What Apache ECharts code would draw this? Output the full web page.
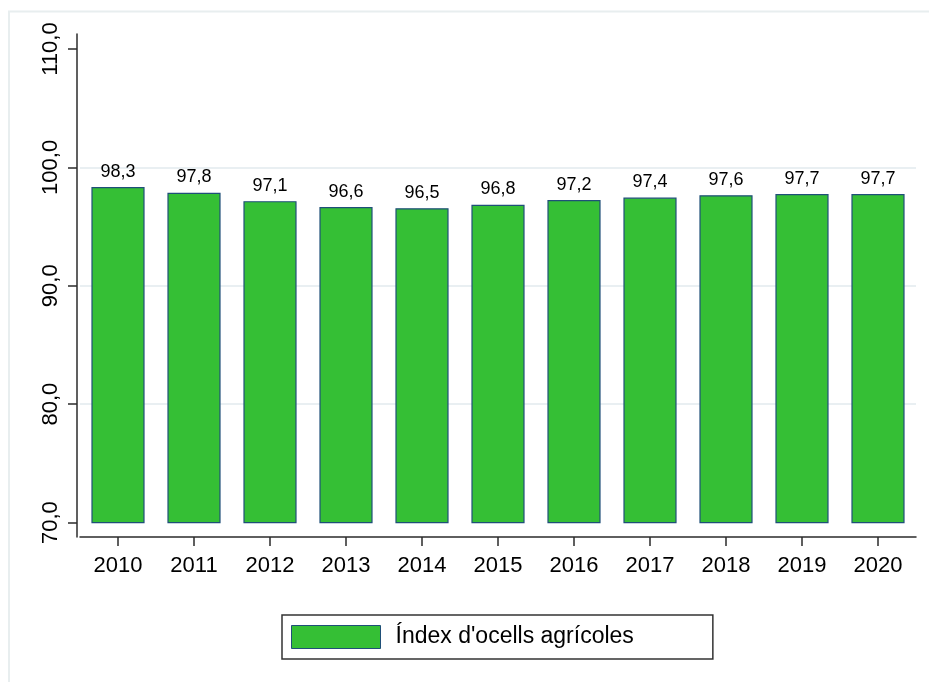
<!DOCTYPE html>
<html>
<head>
<meta charset="utf-8">
<script src="https://cdn.jsdelivr.net/npm/echarts@6/dist/echarts.min.js"></script>
<style>
  html, body { margin: 0; padding: 0; background: #fff; }
  #chart { width: 929px; height: 682px; }
</style>
</head>
<body>
<div id="chart"></div>
<script>
// Farmland bird index, 2010-2020
const years = ['2010', '2011', '2012', '2013', '2014', '2015', '2016', '2017', '2018', '2019', '2020'];
const indexValues = [98.3, 97.8, 97.1, 96.6, 96.5, 96.8, 97.2, 97.4, 97.6, 97.7, 97.7];
const yTicks = [70, 80, 90, 100, 110];
const seriesName = "Índex d'ocells agrícoles";

const BAR_BASE = 70;
const FILL = '#35bf35';
const EDGE = '#1f4f78';
const FONT = '"Liberation Sans", Arial, sans-serif';

const fmt = v => v.toFixed(1).replace('.', ',');

const chart = echarts.init(document.getElementById('chart'));

chart.setOption({
  backgroundColor: '#ffffff',
  animation: false,
  graphic: [{
    type: 'rect',
    silent: true,
    shape: { x: 9, y: 11.5, width: 960, height: 720 },
    style: { fill: 'none', stroke: '#e8eeef', lineWidth: 2 }
  }],
  grid: { left: 80, right: 13, top: 34, bottom: 145 },
  legend: {
    left: 282,
    top: 615,
    orient: 'horizontal',
    padding: [10, 79, 10, 9],
    borderColor: '#333333',
    borderWidth: 1.5,
    itemWidth: 89,
    itemHeight: 23,
    textStyle: { fontFamily: FONT, fontSize: 23, color: '#000', padding: [0, 0, 0, 10] },
    data: [{ name: seriesName, icon: 'rect', itemStyle: { color: FILL, borderColor: EDGE, borderWidth: 1 } }]
  },
  xAxis: {
    type: 'category',
    data: years,
    boundaryGap: true,
    axisLine: { show: true, lineStyle: { color: '#2b2b2b', width: 1.5 } },
    axisTick: { show: true, alignWithLabel: true, length: 9, lineStyle: { color: '#2b2b2b', width: 1.5 } },
    axisLabel: { fontFamily: FONT, fontSize: 22, color: '#000', margin: 18 },
    splitLine: { show: false }
  },
  yAxis: {
    type: 'value',
    min: 68.78,
    max: 111.27,
    offset: 3,
    axisLine: { show: true, lineStyle: { color: '#2b2b2b', width: 1.5 } },
    axisTick: { show: true, length: 9, customValues: yTicks, lineStyle: { color: '#2b2b2b', width: 1.5 } },
    axisLabel: {
      customValues: yTicks,
      rotate: 90,
      fontFamily: FONT, fontSize: 22, color: '#000', margin: 15,
      formatter: v => fmt(v)
    },
    splitLine: {
      show: true,
      lineStyle: { color: ['rgba(0,0,0,0)', '#e9eff2', '#e9eff2', '#e9eff2', 'rgba(0,0,0,0)'], width: 2 }
    }
  },
  series: [{
    name: seriesName,
    type: 'custom',
    itemStyle: { color: FILL, borderColor: EDGE, borderWidth: 1 },
    encode: { x: 0, y: 1 },
    data: indexValues.map((v, i) => [i, v]),
    renderItem: (params, api) => {
      const xi = api.value(0);
      const v = api.value(1);
      const top = api.coord([xi, v]);
      const base = api.coord([xi, BAR_BASE]);
      const w = api.size([1, 0])[0] * 0.684;
      return {
        type: 'group',
        children: [{
          type: 'rect',
          shape: { x: top[0] - w / 2, y: top[1], width: w, height: base[1] - top[1] },
          style: { fill: FILL, stroke: EDGE, lineWidth: 1.2 }
        }, {
          type: 'text',
          style: {
            text: fmt(v),
            x: top[0],
            y: top[1] - 7,
            align: 'center',
            verticalAlign: 'bottom',
            font: '18px ' + FONT,
            fill: '#000'
          }
        }]
      };
    }
  }]
});
</script>
</body>
</html>
